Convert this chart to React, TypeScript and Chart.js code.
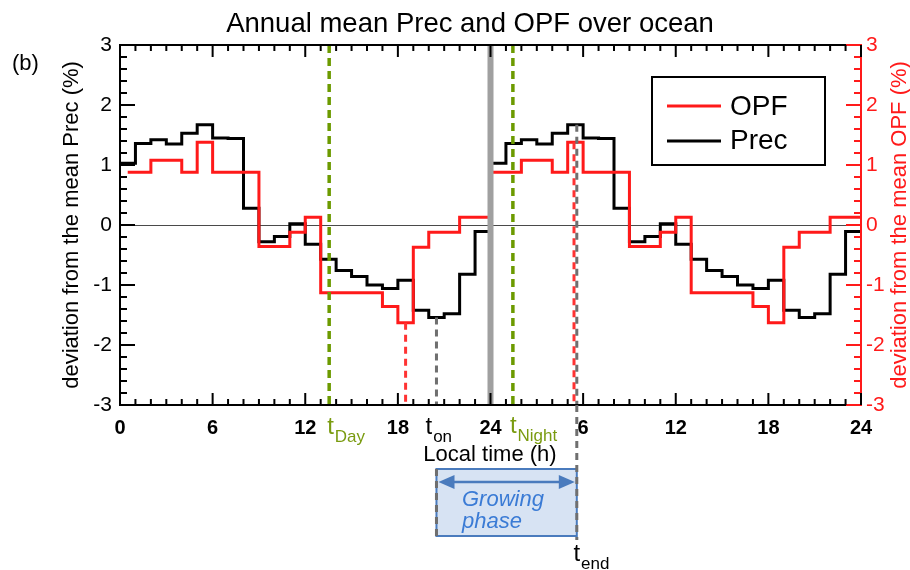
import React, { useEffect, useRef } from 'react';
import { Chart, registerables } from 'chart.js';

Chart.register(...registerables);

// Hour of day (bin start) for the hourly composites
const HOURS = [0, 1, 2, 3, 4, 5, 6, 7, 8, 9, 10, 11, 12, 13, 14, 15, 16, 17, 18, 19, 20, 21, 22, 23];
// Deviation from the daily mean precipitation (%)
const PREC = [1.03, 1.36, 1.42, 1.35, 1.53, 1.67, 1.45, 1.44, 0.28, -0.28, -0.19, 0.02, -0.32, -0.57, -0.76, -0.86, -1.0, -1.06, -0.92, -1.42, -1.54, -1.48, -0.82, -0.11];
// Deviation from the daily mean OPF (%)
const OPF = [0.88, 0.88, 1.08, 1.08, 0.88, 1.38, 0.88, 0.88, 0.88, -0.36, -0.36, -0.12, 0.13, -1.13, -1.13, -1.13, -1.13, -1.36, -1.63, -0.37, -0.12, -0.12, 0.13, 0.13];
const OPF_FIRST_HOUR = 0.5;

const X_TICK_VALUES = [0, 6, 12, 18, 24, 30, 36, 42, 48];
const X_TICK_LABELS = ['0', '6', '12', '18', '24', '6', '12', '18', '24'];
const Y_TICK_VALUES = [-3, -2, -1, 0, 1, 2, 3];
const Y_TICK_LABELS = ['-3', '-2', '-1', '0', '1', '2', '3'];

// Transition times (local hour on the two-day axis)
const T_DAY = 13.55;
const T_NIGHT = 25.45;
const PAIR_NUDGE = 0.09;

const FONT = '"Liberation Sans", Arial, Helvetica, sans-serif';
const RED = '#ff1a1a';
const GREEN = '#6c9a00';
const GREEN_TEXT = '#7a9b10';
const GREY_DASH = '#6f6f6f';
const BLUE = '#4a7bbd';

const argMin = (a: number[]) => a.indexOf(Math.min(...a));
const argMax = (a: number[]) => a.indexOf(Math.max(...a));

const T_ON = HOURS[argMin(PREC)] + 0.5;
const T_END = 24 + HOURS[argMax(PREC)] + 0.5;
const OPF_MIN_T = HOURS[argMin(OPF)] + 0.5;
const OPF_MAX_T = 24 + HOURS[argMax(OPF)] + 0.5;

function stepPoints(values: number[], firstX: number) {
  const pts: { x: number; y: number }[] = [];
  for (let day = 0; day < 2; day++) {
    HOURS.forEach((h, i) => {
      const x = day === 0 && i === 0 ? firstX : day * 24 + h;
      pts.push({ x, y: values[i] });
    });
  }
  pts.push({ x: 48, y: values[values.length - 1] });
  return pts;
}

function subLabel(ctx: CanvasRenderingContext2D, x: number, y: number, main: string, sub: string, color: string) {
  ctx.fillStyle = color;
  ctx.textAlign = 'left';
  ctx.textBaseline = 'alphabetic';
  ctx.font = `24px ${FONT}`;
  ctx.fillText(main, x, y);
  const w = ctx.measureText(main).width;
  ctx.font = `17px ${FONT}`;
  ctx.fillText(sub, x + w + 1, y + 8);
}

function vline(ctx: CanvasRenderingContext2D, x: number, y0: number, y1: number, color: string, width: number, dash: number[]) {
  ctx.save();
  ctx.strokeStyle = color;
  ctx.lineWidth = width;
  ctx.setLineDash(dash);
  ctx.beginPath();
  ctx.moveTo(x, y0);
  ctx.lineTo(x, y1);
  ctx.stroke();
  ctx.restore();
}

const decor = {
  id: 'decor',
  beforeDatasetsDraw(chart: any) {
    const { ctx, chartArea: a, scales } = chart;
    const y0 = Math.round(scales.y.getPixelForValue(0)) + 0.5;
    ctx.save();
    ctx.strokeStyle = '#4a4a4a';
    ctx.lineWidth = 1.2;
    ctx.beginPath();
    ctx.moveTo(a.left, y0);
    ctx.lineTo(a.right, y0);
    ctx.stroke();
    ctx.restore();
  },
  afterDatasetsDraw(chart: any) {
    const { ctx, chartArea: a, scales } = chart;
    const xs = scales.x;
    const ys = scales.y;
    const px = (h: number) => xs.getPixelForValue(h);
    const py = (v: number) => ys.getPixelForValue(v);

    // day / night transitions
    vline(ctx, px(T_DAY), a.top, a.bottom, GREEN, 3.5, [8, 5]);
    vline(ctx, px(T_NIGHT), a.top, a.bottom, GREEN, 3.5, [8, 5]);
    // midnight divider
    vline(ctx, px(24), a.top, a.bottom, '#a0a0a0', 6, []);
    // OPF extremes
    vline(ctx, px(OPF_MIN_T), py(Math.min(...OPF)), a.bottom, '#ff3333', 3, [7, 5]);
    vline(ctx, px(OPF_MAX_T - PAIR_NUDGE), py(Math.max(...OPF)), a.bottom, '#ff3333', 3, [7, 5]);
    // Prec extremes: onset and end of the growing phase
    vline(ctx, px(T_ON), py(Math.min(...PREC)), a.bottom, GREY_DASH, 3, [7, 5]);
    vline(ctx, px(T_END + PAIR_NUDGE), py(Math.max(...PREC)), a.bottom, GREY_DASH, 3, [7, 5]);

    // frame
    ctx.save();
    ctx.lineWidth = 2;
    ctx.strokeStyle = '#000';
    ctx.beginPath();
    ctx.moveTo(a.right, a.top);
    ctx.lineTo(a.left, a.top);
    ctx.lineTo(a.left, a.bottom);
    ctx.lineTo(a.right, a.bottom);
    ctx.stroke();
    ctx.strokeStyle = RED;
    ctx.beginPath();
    ctx.moveTo(a.right, a.top - 1);
    ctx.lineTo(a.right, a.bottom + 1);
    ctx.stroke();

    // tick marks
    ctx.lineWidth = 2;
    for (let k = -15; k <= 15; k++) {
      const v = k / 5;
      const y = py(v);
      const len = k % 5 === 0 ? 15 : 7;
      ctx.strokeStyle = '#000';
      ctx.beginPath();
      ctx.moveTo(a.left, y);
      ctx.lineTo(a.left + len, y);
      ctx.stroke();
      ctx.strokeStyle = RED;
      ctx.beginPath();
      ctx.moveTo(a.right, y);
      ctx.lineTo(a.right - len, y);
      ctx.stroke();
    }
    ctx.strokeStyle = '#000';
    for (let h = 0; h <= 48; h++) {
      const x = px(h);
      const len = h % 6 === 0 ? 12 : 6;
      ctx.beginPath();
      ctx.moveTo(x, a.bottom);
      ctx.lineTo(x, a.bottom - len);
      ctx.moveTo(x, a.top);
      ctx.lineTo(x, a.top + len);
      ctx.stroke();
    }
    ctx.restore();

    // legend
    ctx.save();
    ctx.lineWidth = 2;
    ctx.strokeStyle = '#000';
    ctx.strokeRect(652, 77, 173, 88);
    const items = chart.data.datasets;
    const rows = [
      { ds: items[0], y: 106, base: 115 },
      { ds: items[1], y: 141, base: 149 },
    ];
    rows.forEach((r) => {
      ctx.strokeStyle = r.ds.borderColor;
      ctx.lineWidth = 3;
      ctx.beginPath();
      ctx.moveTo(667, r.y);
      ctx.lineTo(721, r.y);
      ctx.stroke();
      ctx.fillStyle = '#000';
      ctx.font = `28px ${FONT}`;
      ctx.textAlign = 'left';
      ctx.textBaseline = 'alphabetic';
      ctx.fillText(r.ds.label, 730, r.base);
    });
    ctx.restore();
  },
  afterDraw(chart: any) {
    const { ctx, chartArea: a, scales } = chart;
    const px = (h: number) => scales.x.getPixelForValue(h);
    ctx.save();
    ctx.fillStyle = '#000';
    ctx.textBaseline = 'alphabetic';

    ctx.font = `27.5px ${FONT}`;
    ctx.textAlign = 'center';
    ctx.fillText('Annual mean Prec and OPF over ocean', 470, 32);

    ctx.font = `22px ${FONT}`;
    ctx.textAlign = 'left';
    ctx.fillText('(b)', 12, 70);

    ctx.textAlign = 'center';
    ctx.fillText('Local time (h)', 490, 461);

    // axis titles
    ctx.textBaseline = 'middle';
    ctx.save();
    ctx.translate(72, (a.top + a.bottom) / 2);
    ctx.rotate(-Math.PI / 2);
    ctx.fillText('deviation from the mean Prec (%)', 0, 0);
    ctx.restore();
    ctx.save();
    ctx.translate(900, (a.top + a.bottom) / 2);
    ctx.rotate(-Math.PI / 2);
    ctx.fillStyle = RED;
    ctx.fillText('deviation from the mean OPF (%)', 0, 0);
    ctx.restore();

    // transition labels
    subLabel(ctx, px(T_DAY) - 2, 434, 't', 'Day', GREEN_TEXT);
    subLabel(ctx, px(T_NIGHT) - 3, 433, 't', 'Night', GREEN_TEXT);
    subLabel(ctx, px(T_ON) - 11, 434, 't', 'on', '#000');
    subLabel(ctx, px(T_END) - 2, 561, 't', 'end', '#000');

    // growing phase box
    const bx0 = px(T_ON);
    const bx1 = px(T_END + PAIR_NUDGE);
    const by0 = 469;
    const by1 = 536;
    ctx.fillStyle = '#d7e3f3';
    ctx.fillRect(bx0, by0, bx1 - bx0, by1 - by0);
    ctx.strokeStyle = BLUE;
    ctx.lineWidth = 2;
    ctx.strokeRect(bx0, by0, bx1 - bx0, by1 - by0);
    vline(ctx, bx0, by0, by1, GREY_DASH, 3, [7, 5]);
    vline(ctx, bx1, a.bottom, 540, GREY_DASH, 3, [7, 5]);

    // double arrow
    const ay = 482;
    const l = bx0 + 2;
    const r = bx1 - 2;
    ctx.strokeStyle = BLUE;
    ctx.fillStyle = BLUE;
    ctx.lineWidth = 2.5;
    ctx.beginPath();
    ctx.moveTo(l + 10, ay);
    ctx.lineTo(r - 10, ay);
    ctx.stroke();
    ctx.beginPath();
    ctx.moveTo(l, ay);
    ctx.lineTo(l + 16, ay - 7);
    ctx.lineTo(l + 16, ay + 7);
    ctx.closePath();
    ctx.fill();
    ctx.beginPath();
    ctx.moveTo(r, ay);
    ctx.lineTo(r - 16, ay - 7);
    ctx.lineTo(r - 16, ay + 7);
    ctx.closePath();
    ctx.fill();

    ctx.fillStyle = '#3a7bd5';
    ctx.font = `italic 22px ${FONT}`;
    ctx.textAlign = 'left';
    ctx.textBaseline = 'alphabetic';
    ctx.fillText('Growing', 462, 506);
    ctx.fillText('phase', 462, 528);
    ctx.restore();
  },
};

export default function App() {
  const ref = useRef<HTMLCanvasElement | null>(null);

  useEffect(() => {
    if (!ref.current) return;
    const chart = new Chart(ref.current, {
      type: 'line',
      data: {
        datasets: [
          {
            label: 'OPF',
            data: stepPoints(OPF, OPF_FIRST_HOUR),
            borderColor: RED,
            borderWidth: 3,
            stepped: 'before',
            pointRadius: 0,
            fill: false,
            yAxisID: 'y2',
          },
          {
            label: 'Prec',
            data: stepPoints(PREC, 0),
            borderColor: '#000',
            borderWidth: 3,
            stepped: 'before',
            pointRadius: 0,
            fill: false,
            yAxisID: 'y',
          },
        ],
      },
      options: {
        responsive: false,
        animation: false,
        devicePixelRatio: 1,
        layout: { padding: { top: 45, left: 0, right: 0, bottom: 0 } },
        plugins: { legend: { display: false }, title: { display: false }, tooltip: { enabled: false } },
        scales: {
          x: {
            type: 'linear',
            min: 0,
            max: 48,
            grid: { display: false, drawTicks: false },
            border: { display: false },
            afterBuildTicks: (s: any) => {
              s.ticks = X_TICK_VALUES.map((value) => ({ value }));
            },
            afterFit: (s: any) => {
              s.height = 165;
            },
            ticks: {
              autoSkip: false,
              maxRotation: 0,
              padding: 11,
              color: '#000',
              font: { family: FONT, size: 20, weight: 'bold' },
              callback: (_v: any, i: number) => X_TICK_LABELS[i],
            },
          },
          y: {
            position: 'left',
            min: -3,
            max: 3,
            grid: { display: false, drawTicks: false },
            border: { display: false },
            afterBuildTicks: (s: any) => {
              s.ticks = Y_TICK_VALUES.map((value) => ({ value }));
            },
            afterFit: (s: any) => {
              s.width = 120;
            },
            ticks: {
              padding: 8,
              color: '#000',
              font: { family: FONT, size: 21 },
              callback: (_v: any, i: number) => Y_TICK_LABELS[i],
            },
          },
          y2: {
            position: 'right',
            min: -3,
            max: 3,
            grid: { display: false, drawTicks: false },
            border: { display: false },
            afterBuildTicks: (s: any) => {
              s.ticks = Y_TICK_VALUES.map((value) => ({ value }));
            },
            afterFit: (s: any) => {
              s.width = 49;
            },
            ticks: {
              padding: 5,
              color: RED,
              font: { family: FONT, size: 21 },
              callback: (_v: any, i: number) => Y_TICK_LABELS[i],
            },
          },
        },
      },
      plugins: [decor],
    });
    return () => chart.destroy();
  }, []);

  return (
    <div style={{ position: 'absolute', left: 0, top: 0, width: 910, height: 570, background: '#fff' }}>
      <canvas ref={ref} width={910} height={570} />
    </div>
  );
}
